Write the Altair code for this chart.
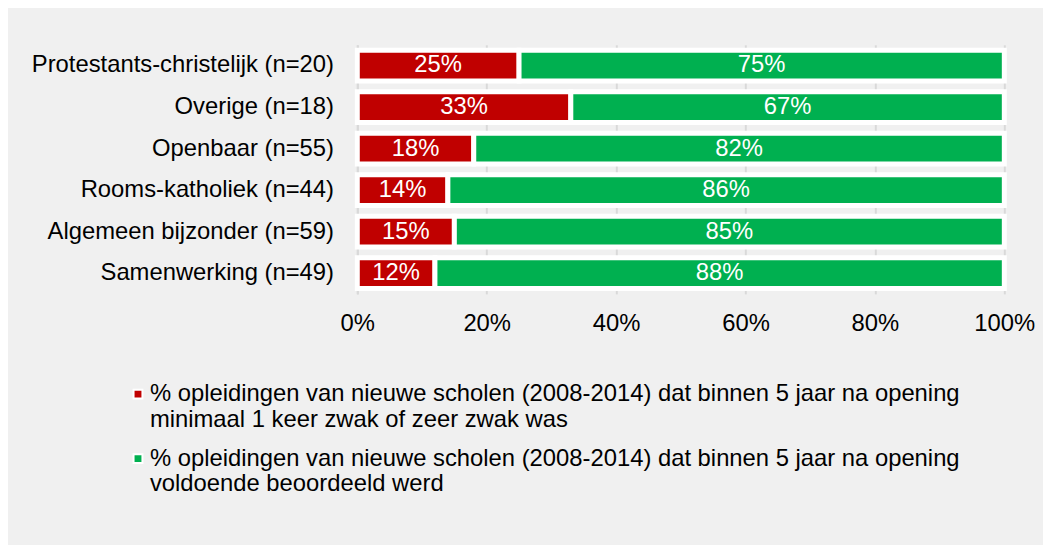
import altair as alt
import pandas as pd

categories = [
    "Protestants-christelijk (n=20)",
    "Overige (n=18)",
    "Openbaar (n=55)",
    "Rooms-katholiek (n=44)",
    "Algemeen bijzonder (n=59)",
    "Samenwerking (n=49)",
]
zwak = [25, 33, 18, 14, 15, 12]
voldoende = [75, 67, 82, 86, 85, 88]
series = [
    "% opleidingen van nieuwe scholen (2008-2014) dat binnen 5 jaar na opening|minimaal 1 keer zwak of zeer zwak was",
    "% opleidingen van nieuwe scholen (2008-2014) dat binnen 5 jaar na opening|voldoende beoordeeld werd",
]
colors = ["#C00000", "#00B050"]
x_ticks = [0, 20, 40, 60, 80, 100]

rows = []
for c, a, b in zip(categories, zwak, voldoende):
    rows.append({"cat": c, "serie": series[0], "val": a, "ord": 0})
    rows.append({"cat": c, "serie": series[1], "val": b, "ord": 1})
df = pd.DataFrame(rows)

FONT = "Liberation Sans"
FS = 24

base = alt.Chart(df).transform_stack(
    stack="val", groupby=["cat"], as_=["v0", "v1"], sort=[alt.SortField("ord")]
).transform_calculate(mid="(datum.v0 + datum.v1) / 2")

y_enc = alt.Y(
    "cat:N",
    sort=categories,
    title=None,
    scale=alt.Scale(paddingInner=0.26, paddingOuter=0.13),
    axis=alt.Axis(
        labelFont=FONT, labelFontSize=FS, labelColor="#000000",
        labelPadding=24, ticks=False, domain=True, domainColor="#d9d9d9",
        domainWidth=2, grid=False, labelLimit=500,
    ),
)

bars = base.mark_bar(stroke="white", strokeWidth=5).encode(
    y=y_enc,
    x=alt.X(
        "v0:Q",
        scale=alt.Scale(domain=[0, 100], nice=False),
        title=None,
        axis=alt.Axis(
            values=x_ticks, labelExpr="datum.value + '%'",
            labelFont=FONT, labelFontSize=FS, labelColor="#000000",
            labelPadding=18, ticks=False, domain=False, labelFlush=False,
            grid=True, gridColor="#d9d9d9", gridWidth=2,
        ),
    ),
    x2="v1:Q",
    color=alt.Color(
        "serie:N",
        scale=alt.Scale(domain=series, range=colors),
        legend=alt.Legend(
            title=None, orient="none", legendX=-233, legendY=340,
            direction="vertical", symbolType="square", symbolSize=80,
            symbolStrokeColor="white", symbolStrokeWidth=2,
            labelFont=FONT, labelFontSize=FS, labelColor="#000000",
            labelLimit=1000, labelExpr="split(datum.label, '|')",
            labelBaseline="middle", rowPadding=15, labelOffset=0, padding=0,
        ),
    ),
)

labels = base.mark_text(
    color="white", font=FONT, fontSize=FS, baseline="middle", align="center"
).encode(
    y=alt.Y("cat:N", sort=categories),
    x=alt.X("mid:Q"),
    text=alt.Text("label:N"),
).transform_calculate(label="datum.val + '%'")

chart = alt.layer(bars, labels).properties(
    width=652,
    height=251,
    padding={"left": 352, "top": 35, "right": 39, "bottom": 251},
    autosize=alt.AutoSizeParams(type="none"),
    background="#f0f0f0",
).configure_view(stroke=None)

chart.save("out.html", embed_options={"renderer": "svg", "actions": False})
